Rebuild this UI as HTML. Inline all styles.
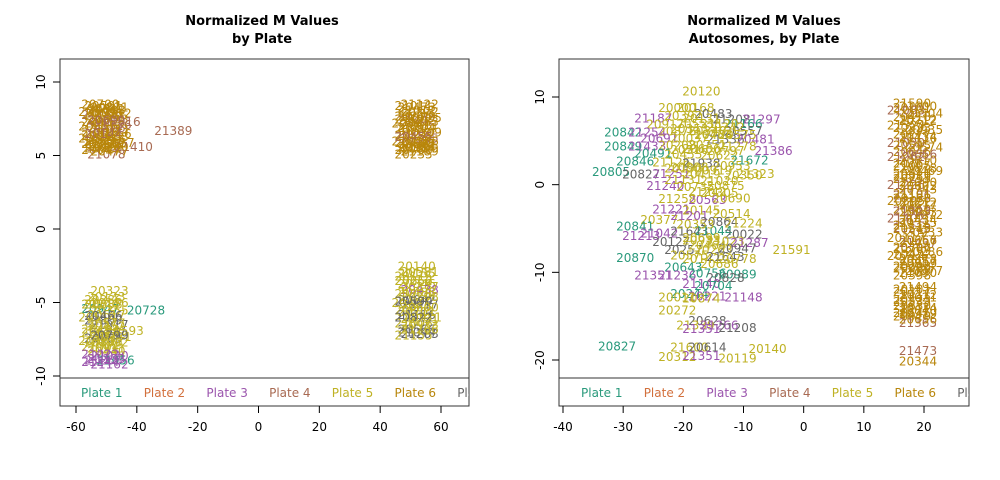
<!DOCTYPE html>
<html><head><meta charset="utf-8"><style>
body{margin:0;background:#fff;}
svg{display:block;font-family:"DejaVu Sans","Liberation Sans",sans-serif;}
</style></head><body>
<svg id="chart" width="1000" height="480" viewBox="0 0 1000 480" xmlns="http://www.w3.org/2000/svg">
<defs>
<clipPath id="clipL"><rect x="60" y="59" width="409" height="347"/></clipPath>
<clipPath id="clipR"><rect x="559" y="59" width="410" height="347"/></clipPath>
</defs>
<g font-weight="bold" font-size="13" text-anchor="middle">
<text x="262" y="25">Normalized M Values</text><text x="262" y="43">by Plate</text></g>
<g font-weight="bold" font-size="13" text-anchor="middle">
<text x="764" y="25">Normalized M Values</text><text x="764" y="43">Autosomes, by Plate</text></g>
<g id="left"></g>
<g id="right"></g>
</svg>
<script>
const plateNames = ["Plate 1","Plate 2","Plate 3","Plate 4","Plate 5","Plate 6","Plate 7"];
const plateColors = ["#2a9a7c","#d2703c","#9b55ad","#a86a52","#bfb224","#b8860b","#666666"];

const leftXTicks = [-60,-40,-20,0,20,40,60];
const leftYTicks = [10,5,0,-5,-10];
const leftLabels = ["20501","20588","21163","20733","20912","21306","20418","21208","20377","21347","20644","21078","20699","20712","20855","21136","20390","20156","21027","20260","21389","21410","21016","21087","20431","20962",
"20473","20372","20215","21442","20611","20943","21212","21355","20780","20187","21189","20235","20864","20509","21044","20725","20314","20588",
"20323","20386","20186","20947","20617","21809","21917","20493","20672","20593","20085","20992","21004","20440","21030","21256","21056","21162","20728","20514","20761","20331","20452","20688",
"20140","20581","20115","20346","20438","20228","20642","20917","20818","21116","20731","21006","20566","21283","20407","20911","20652","20398",
"20811","20922","21033","20144","20255","20366","20477","20588","20699","20700","20811","20922",
"21011","21122","21233","20344","20455","20566","20677","20788","20899","20900","21011","21122",
"20133","20244","20355","20466","20577","20688","20799","20800","20911","21022","21133","21244",
"20155","20266","20377","20488","20599","20600","20711","20822","20933","21044","21155","21266"];
const leftX = [-51,-50,-52,-49,-51,-50,-52,-49,-51,-50,-52,-50,-53,-48,-53,-48,-53,-48,-51,-49,-28,-41,-45,-47,-50,-52,
52,53,51,52,53,51,52,53,51,52,53,51,50,54,50,54,52,51,
-49,-51,-49,-52,-50,-51,-49,-52,-50,-44,-51,-49,-52,-50,-49,-51,-47,-49,-37,-53,-53,-48,-50,-51,
52,53,51,52,53,51,52,53,51,52,53,51,52,53,50,54,51,53,
-50,-52,-49,-51,-50,-52,-49,-51,-50,-52,-49,-51,
52,51,53,52,51,53,52,51,53,52,51,53,
-50,-52,-49,-51,-50,-52,-49,-51,-50,-52,-50,-52,
52,51,53,52,51,53,52,51,53,52,51,53];
const leftY = [8.4,8.1,7.8,7.5,7.2,6.9,6.6,6.3,6.0,5.7,5.4,5.1,8.0,7.9,7.0,7.1,6.2,6.5,5.8,5.6,6.7,5.6,7.3,5.9,7.6,6.4,
8.3,8.0,7.7,7.4,7.1,6.8,6.5,6.2,5.9,5.6,5.3,5.1,7.2,6.6,6.0,7.6,5.5,6.4,
-4.2,-4.8,-5.0,-5.4,-5.8,-6.2,-6.5,-6.8,-7.1,-6.9,-7.4,-7.7,-8.0,-8.3,-8.6,-8.9,-8.9,-9.2,-5.5,-6.0,-7.6,-7.3,-6.6,-5.1,
-2.5,-2.9,-3.2,-3.7,-4.1,-4.4,-4.8,-5.1,-5.5,-5.8,-6.1,-6.4,-6.8,-7.1,-5.0,-6.0,-3.5,-4.6,
8.2,7.3,6.8,6.5,6.1,5.8,5.3,7.9,7.4,8.5,8.3,5.5,
8.1,7.5,7.3,6.9,6.3,6.0,5.8,5.4,5.5,7.7,8.4,8.5,
-4.6,-5.1,-5.5,-5.9,-6.4,-7.0,-7.2,-7.7,-8.1,-8.5,-8.8,-9.0,
-3.0,-3.5,-3.9,-4.3,-4.9,-5.3,-5.6,-6.0,-6.5,-7.0,-7.2,-6.8];
const leftPlate = [6,6,4,6,6,4,6,6,6,6,6,4,6,6,6,4,6,6,6,6,4,4,4,6,6,6,
6,6,6,4,6,6,6,4,6,6,6,6,6,6,6,6,6,6,
5,5,5,1,5,7,7,5,5,5,7,5,5,5,3,3,1,3,1,5,5,5,5,5,
5,5,5,5,3,5,7,7,5,7,5,5,7,7,5,5,5,5,
6,6,6,4,6,6,6,6,4,6,6,6,
6,6,6,6,4,6,6,6,6,6,6,6,
5,5,5,7,5,5,7,5,5,3,3,3,
5,5,5,5,7,5,5,7,5,7,5,5];

const rightXTicks = [-40,-30,-20,-10,0,10,20];
const rightYTicks = [10,0,-10,-20];
const rightLabels = ["20120","20000","20168","20483","21187","20392","21208","21297","21166","20917","20553","21120","20842","21254","20876","20340","20557","20691","20037","21336","20481","20849","21433","20208","20751","21278","21386","20491","20455","20622","21672","20846","21126","21938","20953","20805","20827","21251","20419","20350","21323","21240","20735","20875","21258","20563","20690","21221","20145","20514","20377","21201","20864","21224","20841","21042","21643","21044","20022","21213","20127","20933","21023","21287","21591","20257","20263","20947","20870","20142","21643","20778","20643","21236","21351","20756","20989","20828","21140","20704","20244","20221","20011","20874","21148","20272","20628","21339","21266","21351","21208","20827","21600","20614","20140","20312","21351","20119","20516","20733","20190","20305","20699",
"21590","21600","21083","21504","20418","20712","21324","20935","20277","21116","21030","20574","20646","21262","20810","21005","20469","20255","21226","20743","21186","20395","20677","20860","21072","21402","20525","21213","20933","20117","21437","20396","20286","20714","20457","20298","20877","20398","21494","20317","21021","20630","20840","20919","21365","21473","20344","20511","20602","20188","20943","21115","20367","20472","20809","20533","20279",
"20101","20212","20323","20434","20545","20656","20767","20878","20989","21090","21101","21212","21323","21434","20545","20656","20767","20878","20989","21090","20101","20212","20323","20434","20545","20656",
"20131","20242","20353","20464","20575","20686","20797","20808","20919","21020","21131","21242","20353","20464","20575","20686"];
const rightX = [-17,-21,-18,-15,-25,-20,-12,-7,-10,-23,-18,-14,-30,-26,-21,-16,-10,-24,-19,-13,-8,-30,-26,-21,-16,-11,-5,-25,-20,-14,-9,-28,-22,-17,-12,-32,-27,-22,-17,-10,-8,-23,-18,-13,-21,-16,-12,-22,-17,-12,-24,-19,-14,-10,-28,-24,-19,-15,-10,-27,-22,-17,-13,-9,-2,-20,-15,-11,-28,-17,-13,-11,-20,-21,-25,-16,-11,-13,-17,-15,-19,-16,-21,-17,-10,-21,-16,-18,-14,-17,-11,-31,-19,-16,-6,-21,-17,-11,-19,-15,-20,-14,-17,
18,19,17,20,18,19,17,20,18,19,17,20,18,17,19,18,20,18,17,19,18,17,19,18,20,17,19,18,20,17,19,18,20,17,19,18,20,18,19,18,19,18,19,18,19,19,19,18,19,18,19,18,19,18,19,18,19,
18,19,18,19,18,19,18,19,18,19,18,19,18,19,18,19,18,19,18,19,18,19,18,19,18,19,
-17,-13,-19,-15,-11,-17,-13,-19,-15,-14,-20,-16,-18,-16,-19,-14];
const rightY = [10.7,8.8,8.8,8.1,7.6,7.9,7.5,7.5,7.0,6.9,7.0,7.0,6.0,6.0,6.1,6.2,6.2,5.3,5.3,5.2,5.2,4.4,4.4,4.5,4.6,4.4,3.9,3.6,3.5,3.4,2.8,2.7,2.6,2.5,2.2,1.5,1.2,1.3,1.2,1.1,1.3,-0.1,-0.2,-0.1,-1.6,-1.7,-1.5,-2.8,-2.9,-3.3,-4.0,-3.5,-4.2,-4.4,-4.7,-5.5,-5.3,-5.2,-5.6,-5.8,-6.5,-6.3,-6.4,-6.6,-7.4,-7.4,-7.4,-7.2,-8.3,-8.4,-8.2,-8.4,-9.4,-10.3,-10.3,-10.1,-10.2,-10.6,-11.3,-11.5,-12.4,-12.7,-12.8,-12.9,-12.8,-14.3,-15.5,-16.0,-16.0,-16.4,-16.3,-18.4,-18.5,-18.5,-18.7,-19.6,-19.5,-19.8,4.0,5.8,1.9,-0.9,-6.0,
9.3,9.0,8.5,8.2,7.8,7.3,6.8,6.3,5.8,5.3,4.8,4.3,3.8,3.2,2.8,2.2,1.6,0.7,0.0,-0.5,-1.2,-1.8,-2.3,-2.8,-3.4,-3.8,-4.3,-4.9,-5.4,-6.0,-6.6,-7.1,-7.6,-8.1,-8.7,-9.3,-9.8,-10.3,-11.6,-12.2,-12.8,-13.8,-14.3,-15.0,-15.7,-18.9,-20.1,1.2,-0.1,-1.5,-3.1,-4.6,-6.3,-7.9,-9.0,-13.3,-14.7,
8.8,7.5,6.5,5.5,4.5,3.5,2.5,1.9,1.0,0.3,-1.0,-2.0,-3.0,-4.0,-5.0,-6.3,-7.3,-8.4,-9.5,-10.0,-11.9,-12.5,-13.1,-14.0,-14.6,-15.3,
7.6,6.6,6.4,5.7,5.7,4.1,3.9,2.0,1.7,0.5,0.6,-0.8,-4.5,-6.9,-8.0,-9.0];
const rightPlate = [5,5,5,7,3,5,7,3,1,5,5,5,1,3,5,5,7,3,5,7,3,1,3,5,5,5,3,1,5,5,1,1,5,7,5,1,7,3,5,5,5,3,5,5,5,3,5,3,5,5,5,3,7,5,1,3,7,1,7,3,7,5,5,3,5,7,5,7,1,5,7,5,1,3,3,1,1,7,3,1,1,3,5,5,3,5,7,5,3,3,7,1,5,7,5,5,3,5,5,5,5,5,5,
6,6,4,6,6,6,6,6,6,6,4,6,6,4,6,6,6,6,4,6,4,6,6,6,6,4,6,4,6,6,4,6,6,6,6,6,6,6,6,6,6,6,6,6,4,4,6,6,6,6,6,6,6,6,6,6,6,
6,6,6,6,6,4,6,6,6,6,6,6,4,6,6,6,6,6,6,6,6,6,6,6,6,6,
5,5,5,5,5,5,5,5,5,5,5,5,5,5,5,5];

const NS = "http://www.w3.org/2000/svg";
function mk(tag, attrs, parent){ const e=document.createElementNS(NS,tag); for(const k in attrs) e.setAttribute(k,attrs[k]); parent.appendChild(e); return e; }

function drawPanel(g, box, xd, yd, xTicks, yTicks, labels, xs, ys, plates, clip, legX){
  const sx = v => box.x0 + (v - xd[0]) / (xd[1]-xd[0]) * (box.x1 - box.x0);
  const sy = v => box.yT + (yd[1] - v) / (yd[1]-yd[0]) * (box.yB - box.yT);
  const pts = mk("g",{"clip-path":"url(#"+clip+")","font-size":"12","text-anchor":"middle"},g);
  
  
  for(let i=0;i<labels.length;i++){
    const t = mk("text",{x:sx(xs[i]).toFixed(1),y:(sy(ys[i])+4.5).toFixed(1),fill:plateColors[plates[i]-1]},pts);
    
    
    t.textContent = labels[i];
  }
  const frame = mk("rect",{x:box.x0f,y:box.yT0,width:box.x1f-box.x0f,height:box.yB0-box.yT0,fill:"none",stroke:"#333","stroke-width":"1"},g);
  
  
  const sep = mk("line",{x1:box.x0f,x2:box.x1f,y1:box.yLeg,y2:box.yLeg,stroke:"#333"},g);
  
  
  const leg = mk("g",{"clip-path":"url(#"+clip+")","font-size":"12"},g);
  
  
  for(let i=0;i<plateNames.length;i++){
    const t = mk("text",{x:legX+i*62.7,y:397,fill:plateColors[i]},leg);
    
    
    t.textContent = plateNames[i];
  }
  const ax = mk("g",{stroke:"#000","font-size":"12"},g);
  
  
  xTicks.forEach(v=>{
    const x=sx(v);
    mk("line",{x1:x,x2:x,y1:box.yB0,y2:box.yB0+7},ax);
    const t=mk("text",{x:x,y:box.yB0+25,"text-anchor":"middle",stroke:"none",fill:"#000"},ax);
    
    
    t.textContent=v;
  });
  const ay = mk("g",{stroke:"#000","font-size":"12"},g);
  
  
  yTicks.forEach(v=>{
    const y=sy(v);
    mk("line",{x1:box.x0f,x2:box.x0f-7,y1:y,y2:y},ay);
    const t=mk("text",{x:box.x0f-15,y:y,"text-anchor":"middle",stroke:"none",fill:"#000",transform:"rotate(-90 "+(box.x0f-15)+" "+y+")"},ay);
    
    
    t.textContent=v;
  });
}
drawPanel(document.getElementById("left"),
  {x0:76,x1:441,yT:82,yB:376,x0f:60,x1f:469,yT0:59,yB0:406,yLeg:378},
  [-60,60],[-10,10],leftXTicks,leftYTicks,leftLabels,leftX,leftY,leftPlate,"clipL",81);
drawPanel(document.getElementById("right"),
  {x0:563,x1:924,yT:97,yB:360,x0f:559,x1f:969,yT0:59,yB0:406,yLeg:378},
  [-40,20],[-20,10],rightXTicks,rightYTicks,rightLabels,rightX,rightY,rightPlate,"clipR",581);
</script>
</body></html>
